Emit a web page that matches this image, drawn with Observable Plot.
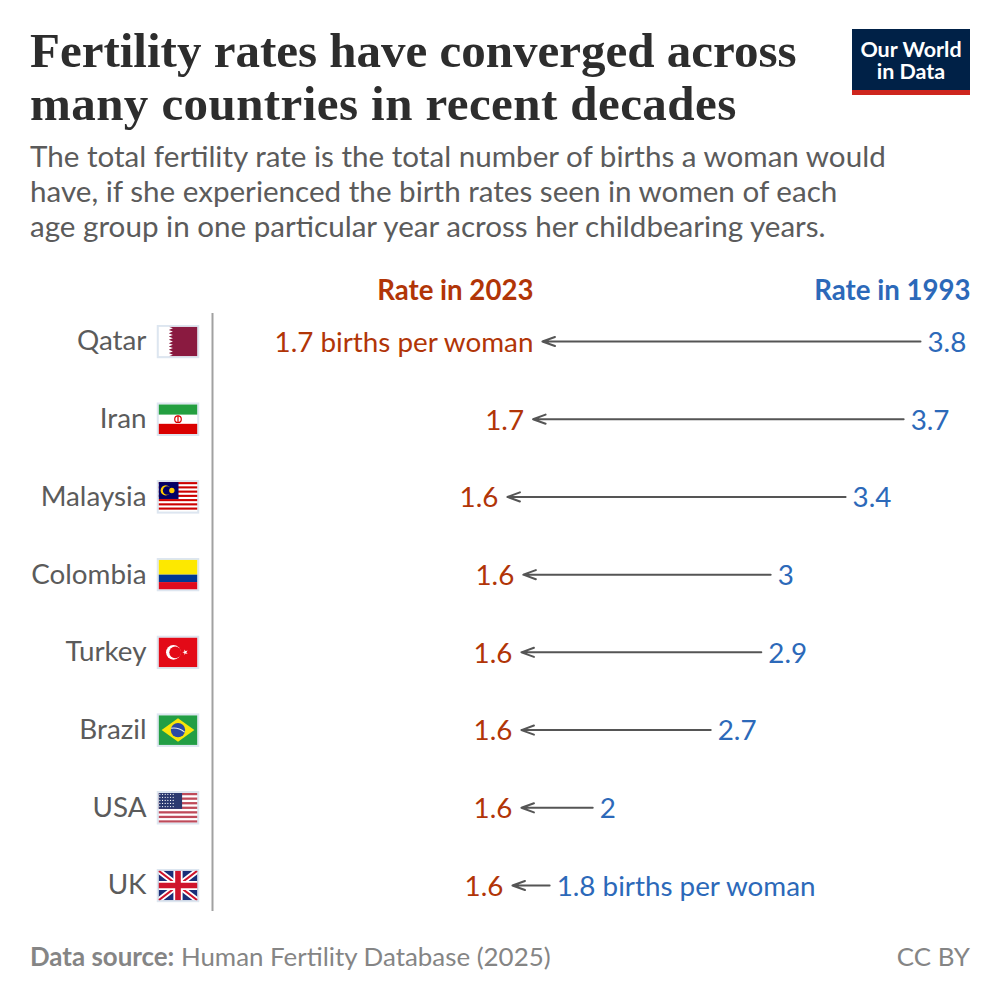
<!DOCTYPE html>
<html><head><meta charset="utf-8">
<script src="https://cdn.jsdelivr.net/npm/d3@7"></script>
<script src="https://cdn.jsdelivr.net/npm/@observablehq/plot@0.6"></script>
<style>
html,body{margin:0;padding:0;background:#fff}
#page{position:relative;width:1000px;height:1000px;overflow:hidden;font-family:Lato,sans-serif}
#head{position:relative;height:265px}
#title{position:absolute;left:30px;top:24px;font:700 49px/53px "Liberation Serif",serif;color:#2d2d2d;white-space:pre}
#title span{letter-spacing:.42px}
#sub{position:absolute;left:30px;top:138px;font:400 29.6px/35px Lato,sans-serif;color:#5b5b5b;white-space:pre}
#logo{position:absolute;left:852px;top:29px;width:118px;height:66px;background:#002147;color:#fff;text-align:center;font:700 21.5px/22px Lato,sans-serif;box-sizing:border-box;padding-top:9px}
#logo i{position:absolute;left:0;right:0;bottom:0;height:5px;background:#ce261e}
#foot{position:absolute;left:30px;right:30px;top:940px;font:400 25.9px/32px Lato,sans-serif;color:#858585;display:flex;justify-content:space-between}
svg{display:block}
</style></head><body>
<div id="page">
  <div id="head">
    <div id="title">Fertility rates have converged across
<span>many countries in recent decades</span></div>
    <div id="sub">The total fertility rate is the total number of births a woman would
have, if she experienced the birth rates seen in women of each
age group in one particular year across her childbearing years.</div>
    <div id="logo">Our World<br>in Data<i></i></div>
  </div>
  <div id="chart"></div>
  <div id="foot"><span><b>Data source:</b> Human Fertility Database (2025)</span><span>CC BY</span></div>
</div>
<script>
const countries = ["Qatar","Iran","Malaysia","Colombia","Turkey","Brazil","USA","UK"];
const rate2023 = [1.74,1.69,1.553,1.638,1.628,1.628,1.628,1.58];
const rate1993 = [3.78,3.69,3.38,2.98,2.93,2.66,2.03,1.80];
const headers = ["Rate in 2023","Rate in 1993"];
const unit = " births per woman";
const RED = "#b13507", BLUE = "#2c69b9", GREY = "#5b5b5b";

const wrap = (inner) => "data:image/svg+xml;utf8," + encodeURIComponent(
  `<svg xmlns="http://www.w3.org/2000/svg" viewBox="0 0 42 33" width="42" height="33"><rect width="42" height="33" fill="#dde6f0"/><svg x="2" y="2" width="38" height="29" viewBox="0 0 38 29"><rect width="38" height="29" fill="#fff"/>${inner}</svg></svg>`);
const stripes = (n, c) => Array.from({length:n}, (_, i) => i % 2 ? "" : `<rect y="${i*29/n}" width="38" height="${29/n}" fill="${c}"/>`).join("");
const zig = Array.from({length:9}, (_, i) => `L14 ${i*29/9+29/18} L10 ${(i+1)*29/9}`).join(" ");
const stars = Array.from({length:30}, (_, i) => `<circle cx="${1.3+(i%6)*2.6}" cy="${1.3+Math.floor(i/6)*3}" r=".6" fill="#fff"/>`).join("");
const flags = [
  `<path d="M10 0 ${zig} L38 29 L38 0Z" fill="#8a1a40"/>`,
  `<rect width="38" height="10" fill="#239f40"/><rect y="19" width="38" height="10" fill="#da0000"/><circle cx="19" cy="14.5" r="3.2" fill="none" stroke="#da0000" stroke-width="1.2"/><rect x="18.4" y="11" width="1.2" height="7" fill="#da0000"/>`,
  stripes(14,"#cc0001") + `<rect width="19.5" height="16.5" fill="#010066"/><circle cx="7" cy="8.2" r="5" fill="#fc0"/><circle cx="8.4" cy="8.2" r="4.2" fill="#010066"/><circle cx="13" cy="8.2" r="2.6" fill="#fc0"/>`,
  `<rect width="38" height="14.5" fill="#fde800"/><rect y="14.5" width="38" height="7.25" fill="#003893"/><rect y="21.75" width="38" height="7.25" fill="#e00b1e"/>`,
  `<rect width="38" height="29" fill="#e30a17"/><circle cx="14.5" cy="14.5" r="7.2" fill="#fff"/><circle cx="16.3" cy="14.5" r="5.8" fill="#e30a17"/><path d="M23.2 14.5 l5.2 -1.7 -3.2 4.4 0 -5.4 3.2 4.4z" fill="#fff"/>`,
  `<rect width="38" height="29" fill="#229e45"/><path d="M19 3 L35 14.5 L19 26 L3 14.5Z" fill="#f8e509"/><circle cx="19" cy="14.5" r="7" fill="#2b49a3"/><path d="M12.3 12.8 Q19 11.5 25.5 16.5" fill="none" stroke="#e8eef0" stroke-width="1"/>`,
  stripes(13,"#bf4a5a") + `<rect width="23" height="15.6" fill="#2c3a70"/>${stars}`,
  `<rect width="38" height="29" fill="#1a2f78"/><path d="M0 0L38 29M38 0L0 29" stroke="#fff" stroke-width="5.5"/><path d="M0 0L38 29M38 0L0 29" stroke="#cf142b" stroke-width="2"/><path d="M19 0V29M0 14.5H38" stroke="#fff" stroke-width="9"/><path d="M19 0V29M0 14.5H38" stroke="#cf142b" stroke-width="5.5"/>`
];

const rows = countries.map((country, i) => ({country, low: rate2023[i], high: rate1993[i], flag: wrap(flags[i]), first: i === 0, last: i === countries.length - 1}));
const fmt = v => String(+v.toFixed(1));
const textBase = {fontFamily: "Lato, sans-serif", fontSize: 27.8};

document.getElementById("chart").append(Plot.plot({
  width: 1000, height: 650,
  marginTop: 48, marginBottom: 4, marginLeft: 0, marginRight: 30,
  style: {background: "transparent", fontFamily: "Lato, sans-serif", overflow: "visible"},
  x: {domain: [0, 3.78], range: [212, 920], axis: null},
  y: {type: "point", domain: countries, range: [76, 620], padding: 0, round: false, axis: null},
  marks: [
    Plot.ruleX([0], {stroke: "#a1a1a1", strokeWidth: 2}),
    Plot.arrow(rows, {x1: "high", x2: "low", y: "country", bend: 0, insetEnd: 4, stroke: "#555", strokeWidth: 2, headLength: 10, headAngle: 40}),
    Plot.text(rows, {...textBase, x: "low", y: "country", dx: -5, dy: 1.5, textAnchor: "end", fill: RED, text: d => fmt(d.low) + (d.first ? unit : "")}),
    Plot.text(rows, {...textBase, x: "high", y: "country", dx: 7, dy: 1.5, textAnchor: "start", fill: BLUE, text: d => fmt(d.high) + (d.last ? unit : "")}),
    Plot.text(rows, {...textBase, y: "country", text: "country", frameAnchor: "left", dx: 146, textAnchor: "end", fill: GREY}),
    Plot.image(rows, {y: "country", src: "flag", frameAnchor: "left", dx: 177.5, width: 43, height: 33.8}),
    Plot.text([headers[0]], {...textBase, x: rate2023[0], frameAnchor: "top", dx: -5, dy: -33, textAnchor: "end", fill: RED, fontWeight: 700, fontSize: 27.6, text: d => d}),
    Plot.text([headers[1]], {...textBase, frameAnchor: "top-right", dy: -33, textAnchor: "end", fill: BLUE, fontWeight: 700, fontSize: 27.6, text: d => d})
  ]
}));
</script>
</body></html>
